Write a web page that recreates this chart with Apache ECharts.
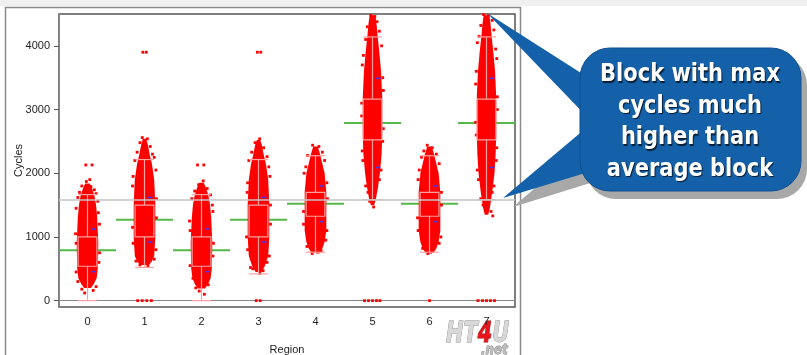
<!DOCTYPE html>
<html>
<head>
<meta charset="UTF-8">
<title></title>
<style>
html, body { margin: 0; padding: 0; background: #fff; }
#main { width: 807px; height: 355px; }
</style>
</head>
<body>
<div id="main"></div>
<script src="https://cdn.jsdelivr.net/npm/echarts@6/dist/echarts.min.js"></script>
<script>
var regions = ['0', '1', '2', '3', '4', '5', '6', '7'];
var yTicks = [0, 1000, 2000, 3000, 4000];
var means = [790, 1270, 790, 1270, 1520, 2790, 1520, 2790];
var stdDev = [335, 350, 335, 350, 280, 700, 280, 700];
var q1 = [540, 1000, 540, 1000, 1325, 2525, 1325, 2525];
var q3 = [1000, 1500, 1000, 1500, 1700, 3165, 1700, 3165];
var whiskerLow = [0, 520, 0, 420, 760, 1585, 760, 1585];
var whiskerHigh = [1665, 2215, 1665, 2215, 2275, 4140, 2275, 4140];
var overallMean = 1585;

// outline of the dense point cloud: [cycles, half width as share of the band]
var clouds = [
  [[200, 0.06], [260, 0.11], [350, 0.16], [500, 0.18], [900, 0.19], [1300, 0.17], [1500, 0.15], [1650, 0.12], [1760, 0.08], [1840, 0.04]],
  [[560, 0.08], [620, 0.13], [700, 0.17], [1000, 0.19], [1500, 0.19], [1900, 0.17], [2150, 0.13], [2300, 0.09], [2440, 0.06], [2540, 0.03]],
  [[190, 0.06], [250, 0.11], [350, 0.16], [500, 0.18], [900, 0.19], [1300, 0.17], [1500, 0.15], [1650, 0.12], [1770, 0.08], [1850, 0.04]],
  [[450, 0.05], [540, 0.11], [700, 0.17], [1000, 0.19], [1500, 0.19], [1900, 0.17], [2150, 0.13], [2300, 0.09], [2440, 0.06], [2520, 0.03]],
  [[750, 0.07], [820, 0.12], [920, 0.16], [1100, 0.19], [1700, 0.19], [2000, 0.16], [2150, 0.12], [2300, 0.08], [2420, 0.04]],
  [[1500, 0.03], [1600, 0.06], [1800, 0.1], [2000, 0.13], [2300, 0.16], [2600, 0.17], [3200, 0.17], [3600, 0.15], [3900, 0.12], [4150, 0.09], [4350, 0.07], [4480, 0.05]],
  [[750, 0.07], [820, 0.12], [920, 0.16], [1100, 0.19], [1700, 0.19], [2000, 0.16], [2150, 0.12], [2300, 0.08], [2420, 0.04]],
  [[1350, 0.03], [1460, 0.06], [1700, 0.1], [2000, 0.14], [2300, 0.16], [2600, 0.17], [3200, 0.17], [3600, 0.15], [3900, 0.12], [4150, 0.09], [4350, 0.07], [4480, 0.05]]
];

// loose points outside the dense cloud: [region, cycles, offset as share of the band]
var loosePoints = [
  [0, 2130, -0.03], [0, 2130, 0.08], [0, 1870, -0.02], [0, 1800, -0.1], [0, 1790, 0.06], [0, 1740, 0.12], [0, 1700, -0.14], [0, 1680, 0.15],
  [0, 1620, -0.17], [0, 1560, 0.18], [0, 1450, -0.2], [0, 1380, 0.19], [0, 1200, 0.21], [0, 1050, -0.21], [0, 900, -0.2], [0, 750, 0.21],
  [0, 600, 0.2], [0, 450, -0.2], [0, 300, -0.17], [0, 160, 0.1], [0, 120, -0.05], [0, 220, 0.15], [0, 180, -0.1], [0, 1610, 0.0], [0, 1900, 0.04],
  [1, 3900, -0.03], [1, 3900, 0.03], [1, 0, -0.12], [1, 0, -0.04], [1, 0, 0.04], [1, 0, 0.12], [1, 2560, -0.04], [1, 2540, 0.05], [1, 2480, -0.08],
  [1, 2420, 0.1], [1, 2380, 0], [1, 2330, -0.13], [1, 2300, 0.14], [1, 2250, 0.17], [1, 2200, -0.17], [1, 2050, 0.2], [1, 1950, -0.2], [1, 1800, -0.21],
  [1, 1600, 0.21], [1, 1300, 0.21], [1, 1150, -0.21], [1, 900, -0.2], [1, 800, 0.2], [1, 650, 0.17], [1, 620, -0.15], [1, 560, -0.08], [1, 540, 0.06],
  [2, 2130, -0.07], [2, 2130, 0.04], [2, 1880, 0.03], [2, 1820, -0.05], [2, 1760, 0.1], [2, 1720, -0.12], [2, 1660, 0.16], [2, 1600, -0.17],
  [2, 1500, 0.19], [2, 1400, 0.2], [2, 1250, -0.21], [2, 1100, -0.2], [2, 900, 0.21], [2, 700, 0.2], [2, 550, -0.2], [2, 350, -0.15],
  [2, 250, 0.12], [2, 150, -0.04], [2, 100, 0.05], [2, 200, -0.1],
  [3, 3900, -0.02], [3, 3900, 0.04], [3, 0, -0.04], [3, 0, 0.03], [3, 2540, 0.02], [3, 2480, -0.06], [3, 2400, 0.09], [3, 2330, -0.12],
  [3, 2260, 0.15], [3, 2200, -0.17], [3, 2100, 0.18], [3, 1950, 0.2], [3, 1850, -0.19], [3, 1700, -0.2], [3, 1500, 0.21], [3, 1200, 0.21],
  [3, 1000, -0.21], [3, 800, -0.19], [3, 700, 0.19], [3, 600, 0.15], [3, 500, -0.1], [3, 430, 0.02], [3, 470, 0.08], [3, 520, -0.14],
  [4, 2440, -0.05], [4, 2420, 0.06], [4, 2370, 0], [4, 2330, 0.12], [4, 2280, -0.14], [4, 2200, 0.16], [4, 2100, -0.17], [4, 2000, -0.2],
  [4, 1850, 0.2], [4, 1600, 0.21], [4, 1400, -0.21], [4, 1200, -0.21], [4, 1100, 0.2], [4, 950, 0.18], [4, 850, -0.15], [4, 780, 0.1],
  [4, 740, -0.06], [4, 760, 0.04],
  [5, 0, -0.14], [5, 0, -0.07], [5, 0, 0], [5, 0, 0.07], [5, 0, 0.13], [5, 4480, -0.03], [5, 4460, 0.04], [5, 4380, 0.08], [5, 4300, -0.09],
  [5, 4230, 0.12], [5, 4100, -0.12], [5, 4000, 0.16], [5, 3850, -0.16], [5, 3700, -0.18], [5, 3500, 0.18], [5, 3300, 0.19], [5, 3100, -0.19],
  [5, 2900, -0.19], [5, 2700, 0.19], [5, 2500, 0.18], [5, 2350, -0.18], [5, 2200, -0.17], [5, 2050, 0.15], [5, 1900, 0.12], [5, 1800, -0.12],
  [5, 1700, -0.08], [5, 1520, 0], [5, 1470, 0.02], [5, 1560, -0.05],
  [6, 0, 0], [6, 2440, -0.04], [6, 2400, 0.05], [6, 2350, -0.1], [6, 2300, 0.12], [6, 2250, -0.14], [6, 2150, 0.17], [6, 2050, -0.18],
  [6, 1900, -0.2], [6, 1700, 0.21], [6, 1500, 0.21], [6, 1300, -0.21], [6, 1100, -0.2], [6, 1000, 0.2], [6, 900, 0.17], [6, 820, -0.12],
  [6, 760, 0.02], [6, 740, -0.03],
  [7, 0, -0.15], [7, 0, -0.07], [7, 0, 0], [7, 0, 0.07], [7, 0, 0.14], [7, 4490, -0.05], [7, 4470, 0.03], [7, 4400, 0.1], [7, 4320, -0.1],
  [7, 4250, 0.13], [7, 4150, -0.13], [7, 4050, -0.16], [7, 3950, 0.16], [7, 3800, 0.18], [7, 3600, -0.18], [7, 3400, -0.19], [7, 3200, 0.19],
  [7, 3000, 0.19], [7, 2800, -0.19], [7, 2600, -0.18], [7, 2400, 0.18], [7, 2200, 0.17], [7, 2050, -0.16], [7, 1900, -0.14], [7, 1800, 0.13],
  [7, 1700, 0.1], [7, 1600, -0.1], [7, 1500, -0.06], [7, 1400, 0.08], [7, 1330, 0.11]
];

var calloutLines = ['Block with max', 'cycles much', 'higher than', 'average block'];

var chart = echarts.init(document.getElementById('main'));
var idx = regions.map(function (r, i) { return [i]; });
var axisFont = "'Liberation Sans', Arial, sans-serif";

function meanLine(params, api) {
  var i = api.value(0);
  var band = api.size([1, 0])[0];
  var c = api.coord([i, means[i]]);
  return {
    type: 'line',
    shape: { x1: c[0] - band / 2, y1: c[1], x2: c[0] + band / 2, y2: c[1] },
    style: { stroke: '#55b84a', lineWidth: 2 }
  };
}

function cloudShape(params, api) {
  var i = api.value(0);
  var band = api.size([1, 0])[0];
  var left = [], right = [];
  clouds[i].forEach(function (p) {
    var c = api.coord([i, p[0]]);
    left.push([c[0] - p[1] * band, c[1]]);
    right.unshift([c[0] + p[1] * band, c[1]]);
  });
  return { type: 'polygon', shape: { points: left.concat(right) }, style: { fill: '#ff0000' } };
}

function loosePoint(params, api) {
  var band = api.size([1, 0])[0];
  var c = api.coord([api.value(0), api.value(1)]);
  return {
    type: 'rect',
    shape: { x: c[0] + api.value(2) * band - 1.4, y: c[1] - 1.4, width: 2.8, height: 2.8 },
    style: { fill: '#ff0000' }
  };
}

function boxShape(params, api) {
  var i = api.value(0);
  var band = api.size([1, 0])[0];
  var half = band * 0.165;
  var lo = api.coord([i, q1[i]]), hi = api.coord([i, q3[i]]);
  var wl = api.coord([i, whiskerLow[i]]), wh = api.coord([i, whiskerHigh[i]]);
  var sdHi = api.coord([i, means[i] + stdDev[i]]), sdLo = api.coord([i, means[i] - stdDev[i]]);
  var x = lo[0];
  var st = { stroke: '#ffa0a0', lineWidth: 1.2, fill: null };
  var blue = { stroke: '#3a3aff', lineWidth: 1.5 };
  return {
    type: 'group',
    children: [
      { type: 'rect', shape: { x: x - half, y: hi[1], width: half * 2, height: lo[1] - hi[1] }, style: st },
      { type: 'line', shape: { x1: x, y1: hi[1], x2: x, y2: wh[1] }, style: st },
      { type: 'line', shape: { x1: x, y1: lo[1], x2: x, y2: wl[1] }, style: st },
      { type: 'line', shape: { x1: x - half, y1: wh[1], x2: x + half, y2: wh[1] }, style: st },
      { type: 'line', shape: { x1: x - half, y1: wl[1], x2: x + half, y2: wl[1] }, style: st },
      { type: 'line', shape: { x1: x + band * 0.06, y1: sdHi[1], x2: x + band * 0.14, y2: sdHi[1] }, style: blue },
      { type: 'line', shape: { x1: x + band * 0.06, y1: sdLo[1], x2: x + band * 0.14, y2: sdLo[1] }, style: blue }
    ]
  };
}

var calloutGraphics = calloutLines.map(function (line, k) {
  return {
    type: 'text', x: 690, y: 75 + k * 31.5, scaleX: 0.875, silent: true,
    style: {
      text: line, fill: '#fff', align: 'center', verticalAlign: 'middle',
      fontSize: 24, fontWeight: 'bold',
      fontFamily: "'DejaVu Sans', sans-serif",
      textShadowColor: 'rgba(0,0,0,0.7)', textShadowOffsetX: 1, textShadowOffsetY: 1.5, textShadowBlur: 1
    }
  };
});

chart.setOption({
  animation: false,
  grid: {
    left: 59, right: 292, top: 14, bottom: 48,
    outerBoundsMode: 'none', containLabel: false,
    show: true, borderColor: '#555', borderWidth: 1.5
  },
  xAxis: {
    type: 'category',
    data: regions,
    name: 'Region',
    nameLocation: 'middle',
    nameGap: 37,
    nameMoveOverlap: false,
    nameTextStyle: { color: '#222', fontSize: 11, fontFamily: axisFont },
    axisLine: { lineStyle: { color: '#888' } },
    axisTick: { length: 4, lineStyle: { color: '#555' } },
    axisLabel: { color: '#222', fontSize: 11, fontFamily: axisFont, margin: 9 }
  },
  yAxis: [
    {
      type: 'value', min: -100, max: 4500, interval: 50,
      axisLine: { show: true, lineStyle: { color: '#888' } },
      axisTick: { length: 2, lineStyle: { color: '#777' } },
      axisLabel: { show: false },
      splitLine: { show: false }
    },
    {
      type: 'value', min: -100, max: 4500, position: 'left',
      name: 'Cycles',
      nameLocation: 'middle',
      nameRotate: 90,
      nameGap: 35,
      nameMoveOverlap: false,
      nameTextStyle: { color: '#222', fontSize: 11, fontFamily: axisFont },
      axisLine: { show: false },
      axisTick: { show: true, length: 5, customValues: yTicks, lineStyle: { color: '#555' } },
      axisLabel: {
        color: '#222', fontSize: 11, fontFamily: axisFont, margin: 9, customValues: yTicks,
        formatter: function (v) { return String(v); }
      },
      splitLine: { show: false }
    }
  ],
  series: [
    {
      type: 'custom', renderItem: meanLine, data: idx, silent: true,
      markLine: {
        silent: true, symbol: 'none', label: { show: false },
        lineStyle: { color: '#c4c4c4', width: 1.5, type: 'solid' },
        data: [{ yAxis: overallMean }]
      }
    },
    { type: 'custom', renderItem: cloudShape, data: idx, silent: true },
    { type: 'custom', renderItem: loosePoint, data: loosePoints, silent: true },
    { type: 'custom', renderItem: boxShape, data: idx, silent: true }
  ],
  graphic: [
    { type: 'rect', shape: { x: 0, y: 0, width: 807, height: 6 }, style: { fill: '#f0f0f0' }, silent: true },
    { type: 'rect', shape: { x: 5.5, y: 7.5, width: 515, height: 360 }, style: { fill: null, stroke: '#8a8a8a', lineWidth: 1.5 }, silent: true },
    // callout shadow
    { type: 'polygon', shape: { points: [[513, 207], [600, 132], [600, 180]] }, style: { fill: '#a8a8a8' }, silent: true },
    { type: 'rect', shape: { x: 586, y: 55, width: 221, height: 144, r: 30 }, style: { fill: '#a8a8a8' }, silent: true },
    // callout
    { type: 'polygon', shape: { points: [[487, 13], [592, 80], [592, 122]] }, style: { fill: '#1461aa' }, silent: true },
    { type: 'polygon', shape: { points: [[503, 198], [592, 123], [592, 171]] }, style: { fill: '#1461aa' }, silent: true },
    { type: 'rect', shape: { x: 580, y: 48, width: 221, height: 143, r: 30 }, style: { fill: '#1461aa', stroke: '#0d4f90', lineWidth: 1 }, silent: true }
  ].concat(calloutGraphics).concat([
    // watermark
    {
      type: 'text', x: 446, y: 320, scaleX: 0.72, silent: true,
      style: {
        text: '{g|HT}{r|4}{g|U}',
        rich: {
          g: { fontSize: 29, fontWeight: 'bold', fontStyle: 'italic', fill: '#d8d8d8', stroke: '#8a8a8a', lineWidth: 1, fontFamily: "'DejaVu Sans', sans-serif" },
          r: { fontSize: 29, fontWeight: 'bold', fontStyle: 'italic', fill: '#e8141c', stroke: '#901010', lineWidth: 1, fontFamily: "'DejaVu Sans', sans-serif" }
        }
      }
    },
    {
      type: 'text', x: 481, y: 343, scaleX: 0.85, silent: true,
      style: { text: '.net', fontSize: 14, fontWeight: 'bold', fontStyle: 'italic', fill: '#bdbdbd', stroke: '#777', lineWidth: 0.8, fontFamily: "'DejaVu Sans', sans-serif" }
    }
  ])
});
</script>
</body>
</html>
